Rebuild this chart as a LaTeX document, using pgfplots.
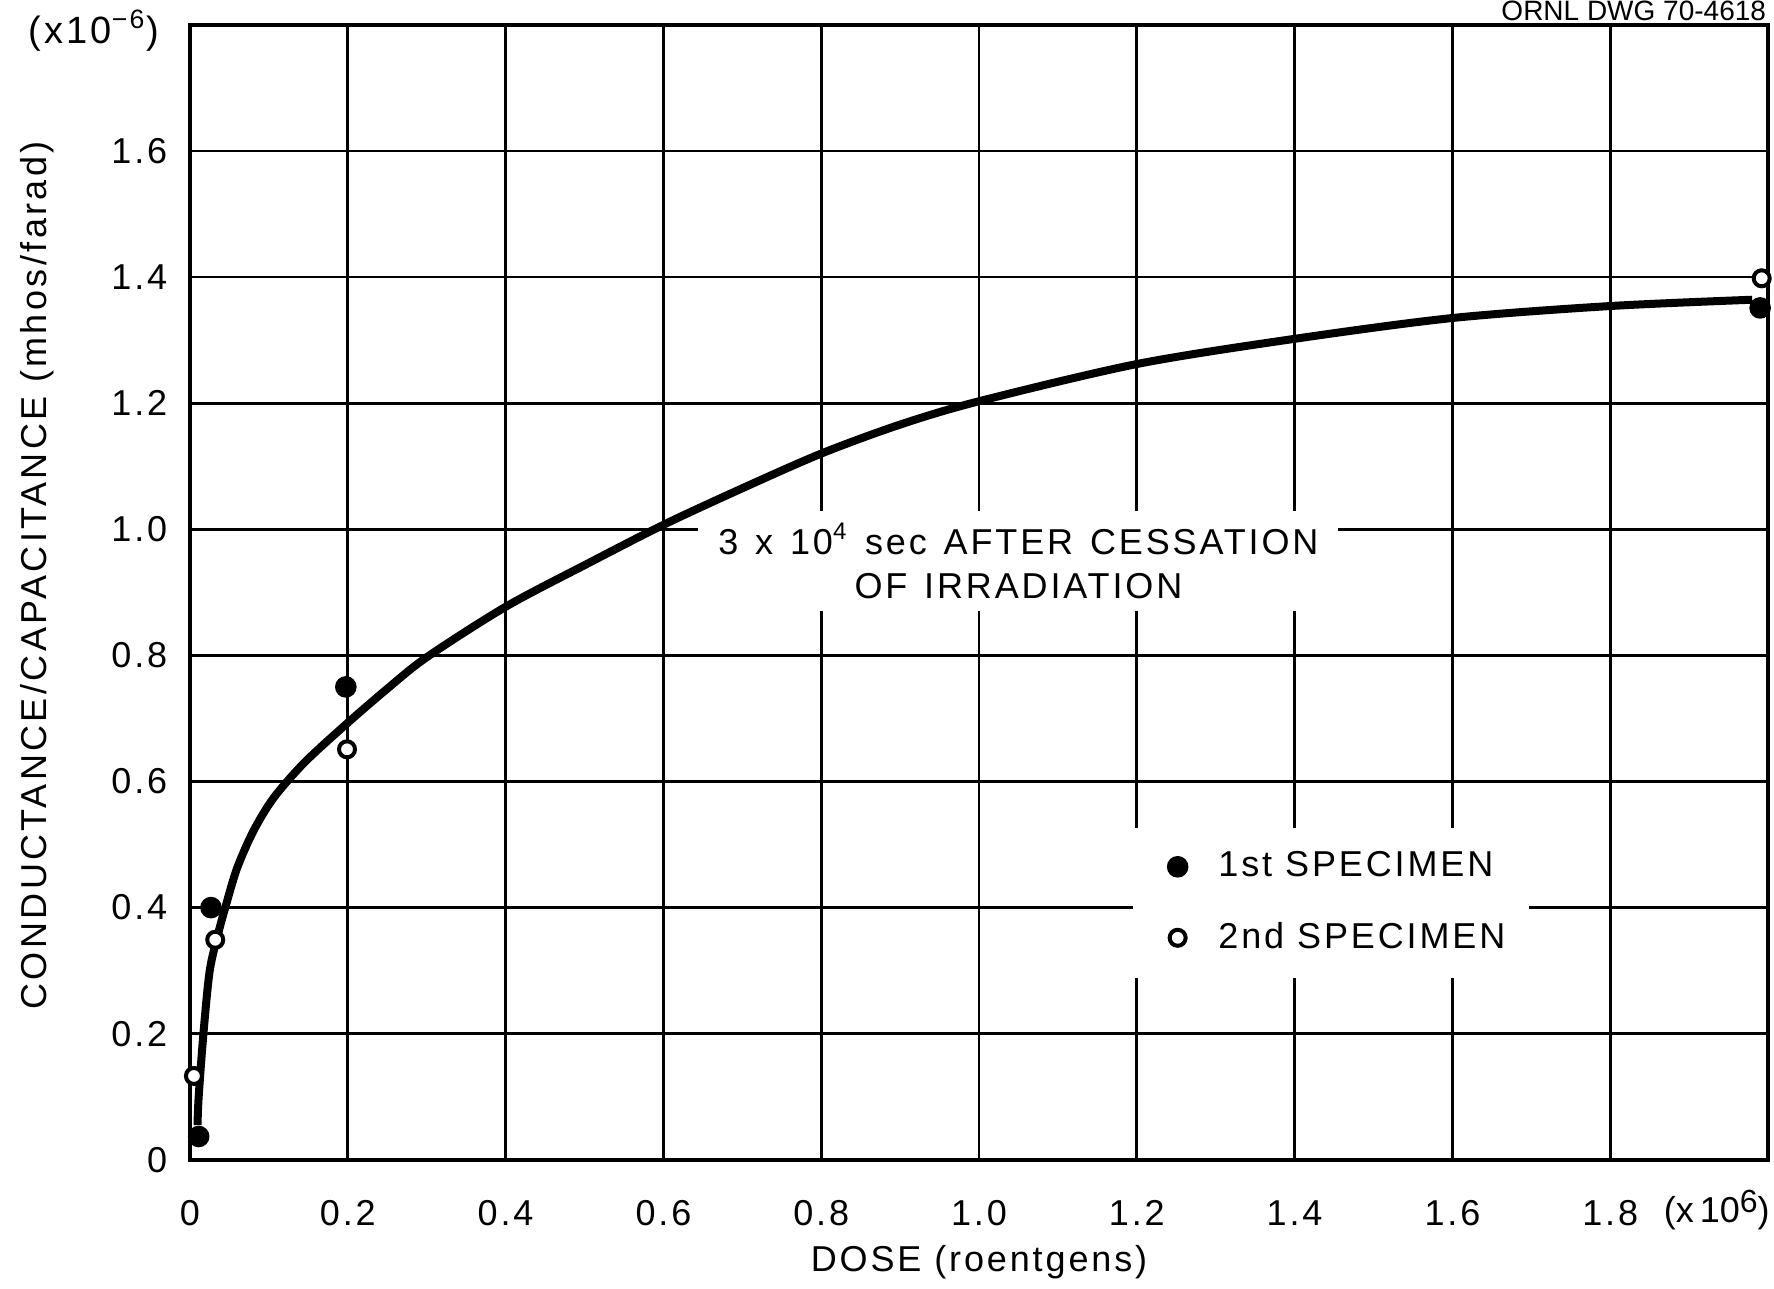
\documentclass[border=0pt]{standalone}
\usepackage{pgfplots}
\pgfplotsset{compat=1.18}
\usepackage{fontspec}
\setmainfont{Liberation Sans}[LetterSpace=8]
\begin{document}
\fontsize{9}{11}\selectfont
\begin{tikzpicture}
\begin{axis}[
  name=main,
  set layers,
  scale only axis, width=394.5pt, height=283.75pt,
  xmin=0, xmax=2.0, ymin=0, ymax=1.8,
  clip=false,
  xtick={0,0.2,0.4,0.6,0.8,1.0,1.2,1.4,1.6,1.8},
  xticklabels={0,0.2,0.4,0.6,0.8,1.0,1.2,1.4,1.6,1.8},
  ytick={0,0.2,0.4,0.6,0.8,1.0,1.2,1.4,1.6},
  yticklabels={0,0.2,0.4,0.6,0.8,1.0,1.2,1.4,1.6},
  grid=major, major grid style={black, line width=0.7pt},
  axis line style={line width=1pt},
  major tick length=0pt,
  tick label style={font=\fontsize{9}{11}\selectfont},
  xticklabel style={yshift=-7pt},
  yticklabel style={xshift=-2.5pt},
  xlabel={DOSE (roentgens)},
  xlabel style={at={(axis description cs:0.5,-0.09)}, anchor=center},
  ylabel={CONDUCTANCE/CAPACITANCE (mhos/farad)},
  ylabel style={at={(axis description cs:-0.097,0.515)}, anchor=center,
    font=\fontsize{9}{11}\selectfont\addfontfeature{LetterSpace=9.5}},
  legend image code/.code={\path (0pt,0pt) (15pt,0pt); \draw[#1] plot coordinates {(7pt,0pt)};},
  legend style={at={(axis cs:1.195,0.527)}, anchor=north west, draw=none, fill=white,
    font=\fontsize{9}{11}\selectfont, row sep=6pt, inner xsep=4pt, inner ysep=4pt, outer sep=0pt},
  legend cell align=left,
]
\begin{pgfonlayer}{pre main}
\node[fill=white, align=center, inner xsep=5pt, inner ysep=3pt, text depth=0pt,
  execute at begin node={\spaceskip=4.2pt plus 1pt\relax}] at (axis cs:1.05,0.95)
  {3 x 10\textsuperscript{4} sec AFTER CESSATION\\OF IRRADIATION};
\end{pgfonlayer}
\addplot[only marks, mark=*, mark size=2.5pt, fill=black, draw=black] coordinates {
  (0.011,0.037) (0.0266,0.40) (0.1975,0.75) (1.99,1.351)
};
\addlegendentry{1st SPECIMEN}
\addplot[only marks, mark=*, mark size=2pt, mark options={fill=white, draw=black, line width=1pt}] coordinates {
  (0.005,0.133) (0.032,0.349) (0.199,0.651) (1.992,1.398)
};
\addlegendentry{2nd SPECIMEN}
\addplot[smooth, line width=2pt, black, forget plot] coordinates {
  (0.0095,0.055) (0.011,0.10) (0.017,0.20) (0.025,0.30) (0.036,0.36) (0.0447,0.40)
  (0.0595,0.462) (0.0806,0.522) (0.106,0.574) (0.145,0.630) (0.199,0.692)
  (0.249,0.746) (0.30,0.797) (0.40,0.877) (0.50,0.943) (0.60,1.007) (0.70,1.065)
  (0.80,1.120) (0.90,1.166) (1.0,1.203) (1.2,1.262) (1.4,1.302)
  (1.6,1.335) (1.8,1.354) (1.98,1.364)
};
\node at (rel axis cs:1,0) [yshift=-12.6pt, xshift=0.6pt, anchor=east, inner sep=0pt,
  font=\fontsize{9}{11}\selectfont\addfontfeature{LetterSpace=0}] {(x\,10\raisebox{0.55ex}{\fontsize{8}{8}\selectfont 6})};
\node at (rel axis cs:0,1) [xshift=-24pt, yshift=-1.5pt, anchor=center, font=\fontsize{9.5}{11}\selectfont] {(x10\textsuperscript{−6})};
\node at (rel axis cs:1,1) [xshift=-0.3pt, yshift=1.2pt, anchor=base east, inner sep=0pt,
  font=\fontsize{7}{8}\selectfont\addfontfeature{LetterSpace=0}] {ORNL DWG 70-4618};
\end{axis}
\pgfresetboundingbox
\path ([shift={(-47.5pt,-32.1pt)}]main.south west) rectangle ([shift={(1.5pt,6.2pt)}]main.north east);
\end{tikzpicture}
\end{document}
